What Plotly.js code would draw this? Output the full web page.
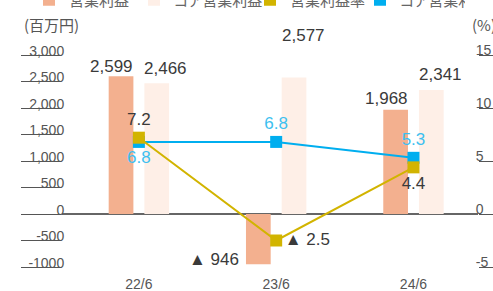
<!DOCTYPE html>
<html><head><meta charset="utf-8">
<script src="https://cdn.plot.ly/plotly-3.0.1.min.js"></script>
<style>html,body{margin:0;padding:0;background:#fff}#chart{width:493px;height:291px}
#chart .legendtext{font-feature-settings:"palt" 1;}</style>
</head><body><div id="chart"></div>
<script>
const categories = ['22/6', '23/6', '24/6'];
const opProfit = [2599, -946, 1968];
const coreOpProfit = [2466, 2577, 2341];
const opMargin = [7.2, -2.5, 4.4];
const coreOpMargin = [6.8, 6.8, 5.3];
const seriesNames = ['営業利益', 'コア営業利益', '営業利益率', 'コア営業利益率'];
const leftTickVals = [-1000, -500, 0, 500, 1000, 1500, 2000, 2500, 3000];
const leftTickText = ['-1000', '-500', '0', '500', '1,000', '1,500', '2,000', '2,500', '3,000'];
const rightTickVals = [-5, 0, 5, 10, 15];
const rightTickText = ['-5', '0', '5', '10', '15'];
const leftUnit = '(百万円)';
const rightUnit = '(%)';

const C_OP = '#F3B08F', C_CORE = '#FEEFE7', C_YEL = '#D2B400', C_CYAN = '#00AEEF';
const NUM_FONT = 'Liberation Sans, Arial, sans-serif';
const JP_FONT = 'Noto Sans CJK JP, sans-serif';
const TXT = '#3a3a3a', AX = '#555';
const BAR_W = 0.18, OFF_OP = -0.22, OFF_CORE = 0.04;
const LEG_W = [60, 71, 65, 60]; // legend entry widths (px)

// pixel helpers for paper-referenced decorations (plot area: l=62, r=15, t=55, b=24)
const W = 493, H = 291, ML = 62, MR = 15, MT = 55, MB = 24;
const PW = W - ML - MR, PH = H - MT - MB;
const px2paperX = px => (px - ML) / PW;
const py2paperY = py => (H - MB - py) / PH;

const fmtAmt = v => v < 0 ? '▲ ' + Math.abs(v).toLocaleString('en-US') : v.toLocaleString('en-US');
const fmtPct = v => v < 0 ? '▲ ' + Math.abs(v).toFixed(1) : v.toFixed(1);

const traces = [
  {type: 'bar', name: seriesNames[0], x: categories, y: opProfit, width: BAR_W, offset: OFF_OP,
   marker: {color: C_OP}, hoverinfo: 'skip', legendwidth: LEG_W[0]},
  {type: 'bar', name: seriesNames[1], x: categories, y: coreOpProfit, width: BAR_W, offset: OFF_CORE,
   marker: {color: C_CORE}, hoverinfo: 'skip', legendwidth: LEG_W[1]},
  {type: 'scatter', mode: 'markers', name: seriesNames[2], x: [null], y: [null], yaxis: 'y2',
   marker: {symbol: 'square', size: 12, color: C_YEL}, legendwidth: LEG_W[2]},
  {type: 'scatter', mode: 'markers', name: seriesNames[3], x: [null], y: [null], yaxis: 'y2',
   marker: {symbol: 'square', size: 12, color: C_CYAN}, legendwidth: LEG_W[3]},
  {type: 'scatter', mode: 'lines+markers+text', name: seriesNames[3], x: categories, y: coreOpMargin, yaxis: 'y2',
   line: {color: C_CYAN, width: 2}, marker: {symbol: 'square', size: 12, color: C_CYAN},
   text: coreOpMargin.map(fmtPct), textposition: ['bottom center', 'top center', 'top center'],
   textfont: {size: 17, color: '#3DBFF0', family: NUM_FONT}, showlegend: false, cliponaxis: false, hoverinfo: 'skip'},
  {type: 'scatter', mode: 'lines+markers+text', name: seriesNames[2], x: categories, y: opMargin, yaxis: 'y2',
   line: {color: C_YEL, width: 2}, marker: {symbol: 'square', size: 12, color: C_YEL},
   text: opMargin.map(fmtPct), textposition: ['top center', 'middle right', 'bottom center'],
   textfont: {size: 17, color: TXT, family: NUM_FONT}, showlegend: false, cliponaxis: false, hoverinfo: 'skip'}
];

// bar value labels (salmon: right-aligned to bar's right edge; pink: left-aligned to bar's left edge)
const opLabelShift = [0, 0, 2];
const coreLabelShift = [3, 30, 4];
const barLabels = [];
opProfit.forEach((v, i) => {
  if (v >= 0) {
    barLabels.push({xref: 'x', yref: 'y', x: i + OFF_OP + BAR_W, y: v, text: fmtAmt(v), showarrow: false,
      xanchor: 'right', yanchor: 'bottom', yshift: opLabelShift[i] - 2, xshift: 2,
      font: {size: 17, color: TXT, family: NUM_FONT}});
  } else {
    barLabels.push({xref: 'x', yref: 'y', x: i + OFF_OP, y: v, text: fmtAmt(v), showarrow: false,
      xanchor: 'right', yanchor: 'middle', xshift: -5, yshift: 5,
      font: {size: 17, color: TXT, family: NUM_FONT}});
  }
});
coreOpProfit.forEach((v, i) => {
  barLabels.push({xref: 'x', yref: 'y', x: i + OFF_CORE, y: v, text: fmtAmt(v), showarrow: false,
    xanchor: 'left', yanchor: 'bottom', yshift: coreLabelShift[i], xshift: -2,
    font: {size: 17, color: TXT, family: NUM_FONT}});
});

const layout = {
  width: W, height: H,
  margin: {l: ML, r: MR, t: MT, b: MB, autoexpand: false},
  paper_bgcolor: '#fff', plot_bgcolor: '#fff',
  barmode: 'overlay',
  showlegend: true,
  font: {family: NUM_FONT, color: AX},
  legend: {orientation: 'h', xref: 'paper', yref: 'paper', x: px2paperX(29), y: py2paperY(0), xanchor: 'left', yanchor: 'middle',
           entrywidth: 65, entrywidthmode: 'pixels',
           font: {size: 15, family: JP_FONT, color: '#666'}, bgcolor: 'rgba(0,0,0,0)'},
  xaxis: {type: 'category', range: [-0.56, 2.47], showline: false, ticks: '', showgrid: false, zeroline: false,
          ticklabelstandoff: 7, tickfont: {size: 14, color: AX, family: NUM_FONT}},
  yaxis: {range: [-1000, 3000], tickmode: 'array', tickvals: leftTickVals, ticktext: leftTickText,
          ticks: 'outside', ticklen: 40, tickcolor: AX, tickwidth: 1, ticklabelposition: 'outside top',
          ticklabelstandoff: -6, ticklabelshift: 6,
          showgrid: false, zeroline: true, zerolinecolor: '#666', zerolinewidth: 1.3, showline: false,
          tickfont: {size: 14, color: AX, family: NUM_FONT}},
  yaxis2: {overlaying: 'y', side: 'right', range: [-5, 15], tickmode: 'array', tickvals: rightTickVals, ticktext: rightTickText,
           ticks: 'outside', ticklen: 20, tickcolor: AX, tickwidth: 1, ticklabelposition: 'outside top',
           ticklabelstandoff: -6, ticklabelshift: 5,
           showgrid: false, zeroline: false, showline: false,
           tickfont: {size: 14, color: AX, family: NUM_FONT}},
  annotations: [
    {xref: 'paper', yref: 'paper', x: px2paperX(22), y: py2paperY(25), xanchor: 'left', yanchor: 'middle', showarrow: false,
     text: leftUnit, font: {size: 15, family: JP_FONT, color: AX}},
    {xref: 'paper', yref: 'paper', x: px2paperX(470), y: py2paperY(25), xanchor: 'left', yanchor: 'middle', showarrow: false,
     text: rightUnit, font: {size: 15, family: JP_FONT, color: AX}},
    ...barLabels
  ]
};

Plotly.newPlot('chart', traces, layout, {displayModeBar: false, staticPlot: true});
</script></body></html>
